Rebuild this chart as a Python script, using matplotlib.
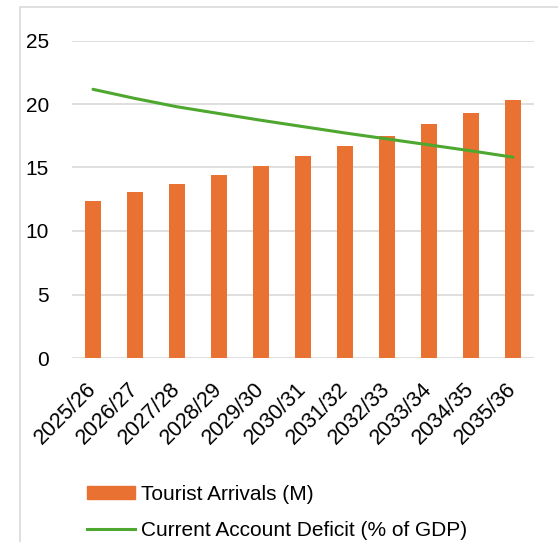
import matplotlib
matplotlib.use("Agg")
import matplotlib.pyplot as plt
import matplotlib.patches as mpatches
import matplotlib.lines as mlines
import numpy as np

plt.rcParams["font.family"] = ["Liberation Sans", "DejaVu Sans"]

YEARS = ["2025/26", "2026/27", "2027/28", "2028/29", "2029/30", "2030/31",
         "2031/32", "2032/33", "2033/34", "2034/35", "2035/36"]
ARRIVALS = [12.4, 13.1, 13.7, 14.4, 15.1, 15.9, 16.7, 17.5, 18.4, 19.3, 20.3]
DEFICIT = [6.77, 6.54, 6.33, 6.16, 5.99, 5.83, 5.67, 5.52, 5.37, 5.22, 5.06]

ORANGE = "#E97132"
GREEN = "#4EA72E"
GRID = "#D9D9D9"
W, H = 558, 542

fig = plt.figure(figsize=(W / 100, H / 100), dpi=100)

# chart area border
fig.patches.append(mpatches.Rectangle(
    (20 / W, -0.2), 1.2, 1.2 - 7 / H, transform=fig.transFigure,
    fill=False, edgecolor=GRID, lw=1.2))

ax = fig.add_axes([72 / W, 1 - 358 / H, (534 - 72) / W, (358 - 40.5) / H])
x = np.arange(len(YEARS))
ax.bar(x, ARRIVALS, width=0.4, color=ORANGE, zorder=3)
ax.set_xlim(-0.5, len(YEARS) - 0.5)
ax.set_ylim(0, 25)
ax.set_yticks(range(0, 26, 5))
ax.yaxis.grid(True, color=GRID, lw=1.2, zorder=0)
ax.set_axisbelow(True)
for s in ax.spines.values():
    s.set_visible(False)
ax.tick_params(axis="both", length=0, labelsize=15, colors="#000000")
ax.tick_params(axis="y", pad=16.5)
ax.set_xticks(x)
ax.set_xticklabels(YEARS, rotation=45, ha="right", va="center",
                   rotation_mode="anchor", fontsize=15.5)
ax.tick_params(axis="x", pad=20)

ax2 = ax.twinx()
ax2.plot(x, DEFICIT, color=GREEN, lw=2.2, solid_capstyle="round", zorder=4)
ax2.set_ylim(0, 8)
ax2.set_yticks(range(0, 9))
for s in ax2.spines.values():
    s.set_visible(False)
ax2.tick_params(axis="y", length=0, labelsize=15, pad=17)

handles = [
    mpatches.Patch(color=ORANGE, label="Tourist Arrivals (M)"),
    mlines.Line2D([], [], color=GREEN, lw=2.2, label="Current Account Deficit (% of GDP)"),
]
fig.legend(handles=handles, loc="upper left",
           bbox_to_anchor=(87 / W, 1 - 485 / H), frameon=False,
           fontsize=15, handlelength=2.3, handleheight=0.62,
           handletextpad=0.3, labelspacing=0.8, borderpad=0,
           borderaxespad=0)

fig.savefig("out.png", dpi=100)
